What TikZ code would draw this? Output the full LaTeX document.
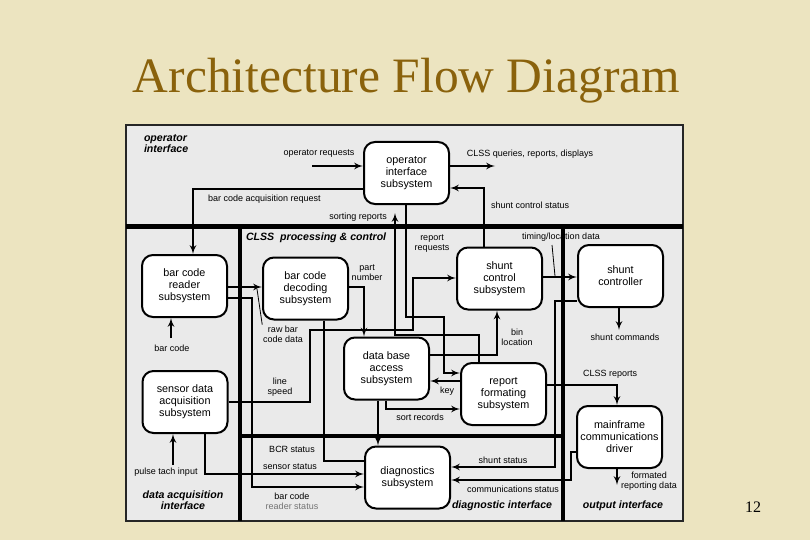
\documentclass[tikz,border=0pt]{standalone}
\usepackage{fontspec}
\setmainfont{Liberation Serif}
\newfontfamily\diagfont{Liberation Sans}
\usetikzlibrary{shapes,arrows}
\definecolor{slidebg}{RGB}{236,228,192}
\definecolor{titlebrown}{RGB}{138,98,12}
\definecolor{panelgray}{RGB}{234,234,234}

\begin{document}
\begin{tikzpicture}[x=1pt, y=-1pt, >=latex', line width=2pt,
    block/.style={draw, rectangle, rounded corners=11pt, fill=white, minimum width=85pt, minimum height=62pt, inner sep=0pt, align=center, font=\diagfont\fontsize{10.8}{12}\selectfont},
    lbl/.style={inner sep=0pt, align=center, font=\diagfont\fontsize{9}{10}\selectfont},
    area/.style={inner sep=0pt, align=center, font=\diagfont\bfseries\itshape\fontsize{10.6}{11.5}\selectfont},
    border/.style={line width=4.5pt},
    leader/.style={line width=0.8pt}]
\fill[slidebg] (0,0) rectangle (810,540);
\node[anchor=base, text=titlebrown, font=\fontsize{49.5}{50}\selectfont] (title) at (406.5,93) {Architecture Flow Diagram};
\node[anchor=base, font=\fontsize{16}{16}\selectfont] (pageno) at (753,512) {12};
\draw[fill=panelgray, line width=2pt, draw=black!85] (126,125) rectangle (683,521);
\draw[border] (126,226.5) -- (683,226.5);
\draw[border] (240,226.5) -- (240,521);
\draw[border] (563,226.5) -- (563,521);
\draw[border] (240,436) -- (563,436);

\node[area, anchor=west, align=left] (opzone) at (143,143.5) {operator\\interface};
\node[area, anchor=west] (proczone) at (245,238) {CLSS\ \ processing \& control};
\node[area] (acqzone) at (183,500) {data acquisition\\interface};
\node[area, anchor=west] (diagzone) at (451,506) {diagnostic interface};
\node[area] (outzone) at (623,506) {output interface};

\node[block] (opif) at (406.5,173) {operator\\interface\\subsystem};
\node[block] (reader) at (184.5,286) {bar code\\reader\\subsystem};
\node[block] (decoder) at (305.5,288.5) {bar code\\decoding\\subsystem};
\node[block] (shuntctl) at (499.5,278.5) {shunt\\control\\subsystem};
\node[block] (shunt) at (620.5,276) {shunt\\controller};
\node[block] (dbase) at (386.5,368.5) {data base\\access\\subsystem};
\node[block] (report) at (503.5,394) {report\\formating\\subsystem};
\node[block] (sensor) at (185,402) {sensor data\\acquisition\\subsystem};
\node[block] (diag) at (407.5,477.5) {diagnostics\\subsystem};
\node[block] (mainframe) at (619.5,437) {mainframe\\communications\\driver};

\coordinate (opreqstart) at (312,166);
\coordinate (queryend) at (495,166);
\coordinate (sortend) at (395,213);
\coordinate (barcodestart) at (171,338);
\coordinate (pulsestart) at (173,465);
\coordinate (cmdend) at (619,330);
\coordinate (fmtend) at (617,485);
\coordinate (rawtip) at (257,289);
\coordinate (timingtip) at (555,276);

\draw[->] (opreqstart) -- (opreqstart -| opif.west);
\node[lbl] (opreq) at (319,154) {operator requests};
\draw[->] (queryend -| opif.east) -- (queryend);
\node[lbl] (query) at (530,154) {CLSS queries, reports, displays};
\draw[->] (opif.west |- 0,189) -| (193,0 |- reader.north);
\node[lbl, anchor=west] (acqreq) at (207,199) {bar code acquisition request};
\draw[->] (479,0 |- report.north) -- (479,335) -| (sortend);
\node[lbl, anchor=east] (sortrep) at (388,217) {sorting reports};
\draw[->] (484,0 |- shuntctl.north) |- (opif.east |- 0,188);
\node[lbl, anchor=west] (shuntstat) at (490,205) {shunt control status};
\draw[->] (406,0 |- opif.south) -- (406,317) -- (444,317) |- (report.west |- 0,373);
\node[lbl] (repreq) at (432,244) {report\\requests};

\draw[->] (barcodestart) -- (barcodestart |- reader.south);
\node[lbl] (barcode) at (172,348) {bar code};
\draw[->] (reader.east |- 0,287) -- (decoder.west |- 0,287);
\node[lbl] (rawdata) at (283,334) {raw bar\\code data};
\draw[leader] (rawtip) -- (rawdata.north west);
\draw[->] (reader.east |- 0,298) -- (252,298) |- (diag.west |- 0,487);
\node[lbl] (rdrstat) at (292,501) {bar code\\\textcolor{black!55}{reader status}};
\draw[->] (decoder.east |- 0,287) -| (364,0 |- dbase.north);
\node[lbl] (partno) at (367,273) {part\\number};
\draw (324,0 |- decoder.south) |- (diag.west |- 0,461);
\node[lbl] (bcrstat) at (292,449) {BCR status};

\draw[->] (sensor.east) -- (310,402) -- (310,330) -- (413,330) |- (shuntctl.west |- 0,278);
\node[lbl] (linespeed) at (280,387) {line\\speed};
\draw[->] (pulsestart) -- (pulsestart |- sensor.south);
\node[lbl] (pulse) at (166,472) {pulse tach input};
\draw[->] (205,0 |- sensor.south) |- (diag.west |- 0,474);
\node[lbl] (sensstat) at (290,467) {sensor status};

\draw[->] (378,0 |- dbase.south) -- (378,0 |- diag.north);
\draw[->] (386,0 |- dbase.south) |- (report.west |- 0,409);
\node[lbl] (sortrec) at (420,417) {sort records};
\draw[->] (report.west |- 0,381) -- (dbase.east |- 0,381);
\node[lbl] (key) at (447,391) {key};
\draw[->] (dbase.east |- 0,355) -| (497,0 |- shuntctl.south);
\node[lbl] (binloc) at (517,337) {bin\\location};

\draw[->] (shuntctl.east |- 0,277) -- (shunt.west |- 0,277);
\node[lbl] (timing) at (561,237) {timing/location data};
\draw[leader] (552,245) -- (timingtip);
\draw[->] (cmdend |- shunt.south) -- (cmdend);
\node[lbl] (shuntcmd) at (625,337) {shunt commands};
\draw[->] (shunt.west |- 0,301) -| (555,467) -- (diag.east |- 0,467);
\node[lbl] (shstat) at (503,460) {shunt status};

\draw[->] (report.east |- 0,385) -| (617,0 |- mainframe.north);
\node[lbl, anchor=west] (clssrep) at (582,374) {CLSS reports};
\draw[->] (mainframe.west |- 0,452) -- (571,452) |- (diag.east |- 0,480);
\node[lbl] (commstat) at (513,489) {communications status};
\draw[->] (fmtend |- mainframe.south) -- (fmtend);
\node[lbl] (fmtdata) at (649,481) {formated\\reporting data};
\end{tikzpicture}
\end{document}
